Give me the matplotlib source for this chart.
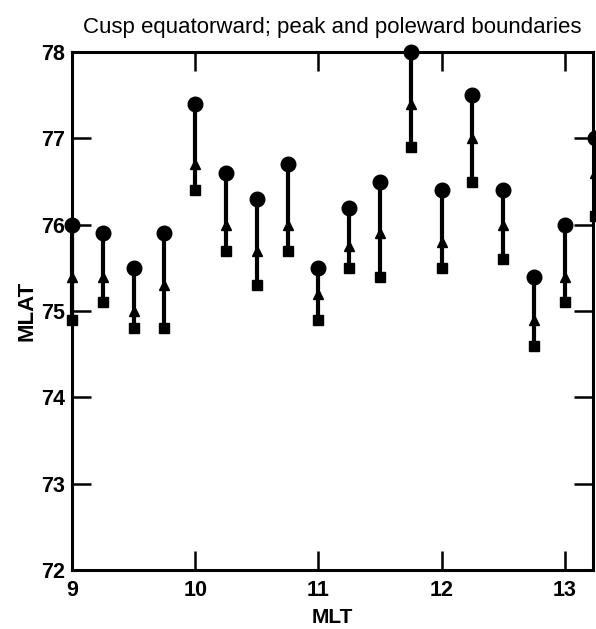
import matplotlib
matplotlib.use("Agg")
import matplotlib.pyplot as plt

plt.rcParams['font.family'] = ['Liberation Sans', 'DejaVu Sans']

# Magnetic local time of each pass (hours)
mlt = [9.0, 9.25, 9.5, 9.75, 10.0, 10.25, 10.5, 10.75, 11.0,
       11.25, 11.5, 11.75, 12.0, 12.25, 12.5, 12.75, 13.0, 13.25]
# Cusp boundaries in magnetic latitude (degrees)
equatorward = [74.9, 75.1, 74.8, 74.8, 76.4, 75.7, 75.3, 75.7, 74.9,
               75.5, 75.4, 76.9, 75.5, 76.5, 75.6, 74.6, 75.1, 76.1]
peak = [75.4, 75.4, 75.0, 75.3, 76.7, 76.0, 75.7, 76.0, 75.2,
        75.75, 75.9, 77.4, 75.8, 77.0, 76.0, 74.9, 75.4, 76.6]
poleward = [76.0, 75.9, 75.5, 75.9, 77.4, 76.6, 76.3, 76.7, 75.5,
            76.2, 76.5, 78.0, 76.4, 77.5, 76.4, 75.4, 76.0, 77.0]

x_ticks = [9, 10, 11, 12, 13]
y_ticks = [72, 73, 74, 75, 76, 77, 78]

fig = plt.figure(figsize=(5.96, 6.29), dpi=100)
ax = fig.add_axes([0.121, 0.094, 0.874, 0.823])

ax.vlines(mlt, equatorward, poleward, colors='black', linewidth=3.0,
          clip_on=False, zorder=3)
ax.plot(mlt, equatorward, linestyle='none', marker='s', markersize=7,
        color='black', clip_on=False, zorder=4)
ax.plot(mlt, peak, linestyle='none', marker='^', markersize=7,
        color='black', clip_on=False, zorder=4)
ax.plot(mlt, poleward, linestyle='none', marker='o', markersize=10.5,
        color='black', clip_on=False, zorder=4)

ax.set_xlim(9, 13.23)
ax.set_ylim(72, 78)
ax.set_xticks(x_ticks)
ax.set_yticks(y_ticks)
ax.set_xticklabels([str(v) for v in x_ticks])
ax.set_yticklabels([str(v) for v in y_ticks])

for s in ax.spines.values():
    s.set_linewidth(2.2)

ax.tick_params(axis='both', direction='in', length=14, width=1.8,
               top=True, right=True, labelsize=15.5)
ax.tick_params(axis='x', pad=7)
ax.tick_params(axis='y', pad=5)
for lab in ax.get_xticklabels() + ax.get_yticklabels():
    lab.set_fontweight('bold')

ax.set_xlabel('MLT', fontsize=15, fontweight='bold', labelpad=5)
ax.set_ylabel('MLAT', fontsize=16, fontweight='bold', labelpad=3)
ax.set_title('Cusp equatorward; peak and poleward boundaries',
             fontsize=16, pad=14)

fig.savefig('out.png', dpi=100)
